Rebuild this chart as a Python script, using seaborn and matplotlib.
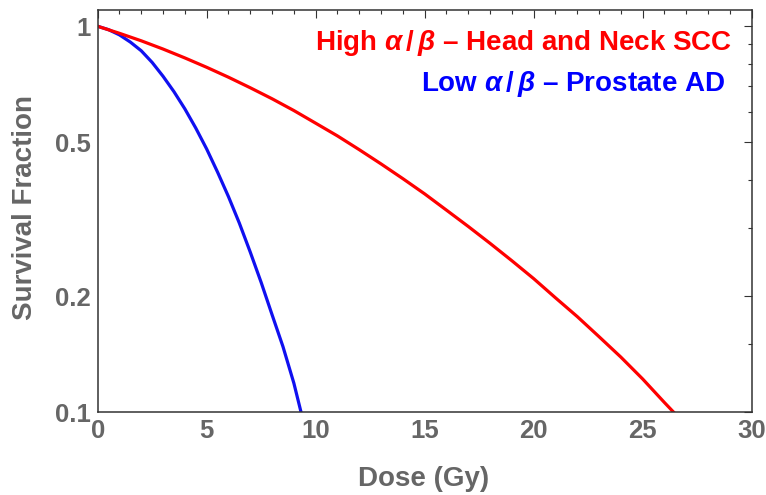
import numpy as np
import pandas as pd
import matplotlib
matplotlib.use("Agg")
import matplotlib.pyplot as plt
import matplotlib.ticker as mticker
import seaborn as sns

# Dose-survival readings (Gy, surviving fraction)
dose_hn = [0, 1, 2, 3, 4, 5, 6, 7, 8, 9, 10, 11, 12, 13, 14, 15, 16, 17, 18,
           19, 20, 21, 22, 23, 24, 25, 26, 26.5]
surv_hn = [1.0, 0.959, 0.917, 0.873, 0.828, 0.783, 0.738, 0.693, 0.649, 0.605,
           0.561, 0.520, 0.479, 0.440, 0.403, 0.368, 0.334, 0.303, 0.274,
           0.247, 0.222, 0.198, 0.177, 0.157, 0.139, 0.122, 0.106, 0.099]

dose_pr = [0, 0.5, 1, 1.5, 2, 2.5, 3, 3.5, 4, 4.5, 5, 5.5, 6, 6.5, 7, 7.5, 8,
           8.5, 9, 9.35]
surv_pr = [1.0, 0.980, 0.950, 0.910, 0.864, 0.806, 0.742, 0.677, 0.611, 0.545,
           0.481, 0.419, 0.362, 0.309, 0.260, 0.217, 0.179, 0.148, 0.119,
           0.099]

label_hn = r"High $\alpha\,/\,\beta$ – Head and Neck SCC"
label_pr = r"Low $\alpha\,/\,\beta$ – Prostate AD"

x_ticks = [0, 5, 10, 15, 20, 25, 30]
y_ticks = [0.1, 0.2, 0.5, 1]
y_tick_labels = ["0.1", "0.2", "0.5", "1"]
y_minor = [0.15, 0.3, 0.4, 0.6, 0.7, 0.8, 0.9]

sns.set_style("white")
plt.rcParams["font.family"] = ["Liberation Sans", "DejaVu Sans"]
plt.rcParams["mathtext.fontset"] = "custom"
plt.rcParams["mathtext.rm"] = "Liberation Sans:bold"
plt.rcParams["mathtext.it"] = "Liberation Sans:italic:bold"
plt.rcParams["mathtext.bf"] = "Liberation Sans:bold"

df = pd.concat([
    pd.DataFrame({"dose": dose_pr, "surv": surv_pr, "tissue": "prostate"}),
    pd.DataFrame({"dose": dose_hn, "surv": surv_hn, "tissue": "headneck"}),
], ignore_index=True)

fig = plt.figure(figsize=(7.66, 4.95), dpi=100)
ax = fig.add_axes([0.1275, 0.167, 0.8538, 0.8128])

sns.lineplot(data=df, x="dose", y="surv", hue="tissue", sort=False,
             palette={"prostate": "#1010f0", "headneck": "#ff0000"},
             linewidth=2.3, legend=False, ax=ax, estimator=None)

ax.set_yscale("log")
ax.set_xlim(0, 30)
ax.set_ylim(0.1, 1.102)

ax.set_xticks(x_ticks)
ax.set_xticklabels([str(t) for t in x_ticks])
ax.xaxis.set_minor_locator(mticker.MultipleLocator(1))
ax.set_yticks(y_ticks)
ax.set_yticklabels(y_tick_labels)
ax.yaxis.set_minor_locator(mticker.FixedLocator(y_minor))
ax.yaxis.set_minor_formatter(mticker.NullFormatter())

frame_col = "#333333"
label_col = "#666666"
for sp in ax.spines.values():
    sp.set_color(frame_col)
    sp.set_linewidth(1.1)

ax.tick_params(which="both", direction="in", top=True, right=True,
               color=frame_col, width=0.8)
ax.tick_params(which="major", length=5.5)
ax.tick_params(which="minor", length=3)
ax.tick_params(axis="x", which="major", pad=4.5, labelsize=18.5,
               labelcolor=label_col)
ax.tick_params(axis="y", which="major", pad=5, labelsize=18.5,
               labelcolor=label_col)
for lab in ax.get_xticklabels() + ax.get_yticklabels():
    lab.set_fontweight("bold")

ax.set_xlabel("Dose (Gy)", fontsize=20, fontweight="bold", color=label_col)
ax.set_ylabel("Survival Fraction", fontsize=20, fontweight="bold",
              color=label_col)
ax.xaxis.set_label_coords(0.499, -0.1325)
ax.yaxis.set_label_coords(-0.0905, 0.51)

ax.text(0.9694, 0.9006, label_hn, transform=ax.transAxes, ha="right",
        va="baseline", fontsize=20, fontweight="bold", color="#ff0000")
ax.text(0.9596, 0.7994, label_pr, transform=ax.transAxes, ha="right",
        va="baseline", fontsize=20, fontweight="bold", color="#0000ff")

fig.savefig("out.png", dpi=100)
